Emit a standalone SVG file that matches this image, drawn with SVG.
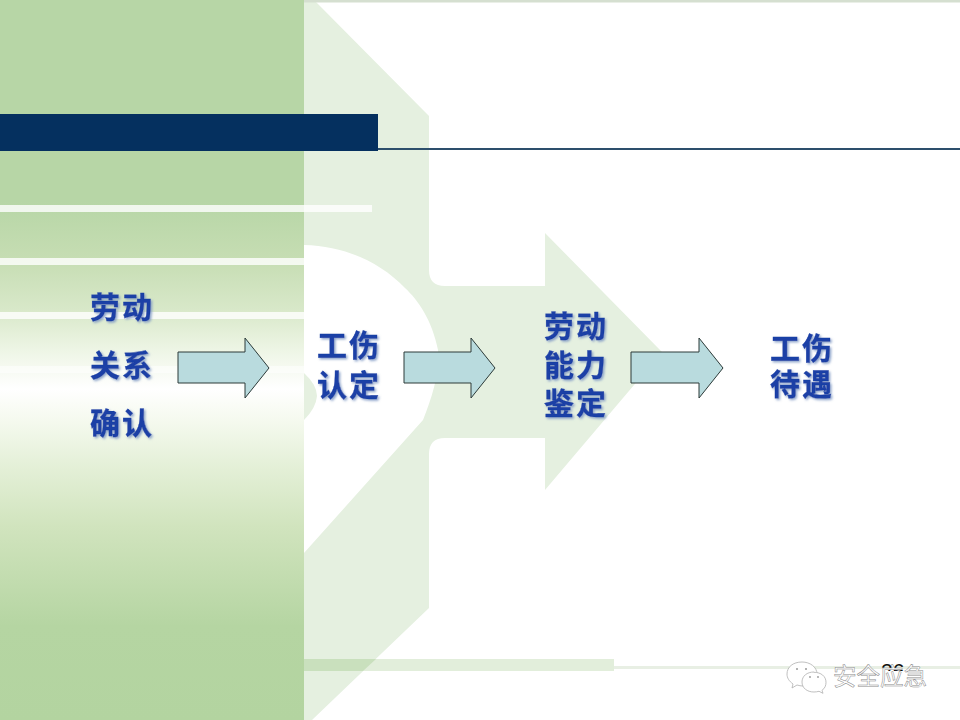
<svg xmlns="http://www.w3.org/2000/svg" width="960" height="720" viewBox="0 0 960 720">
<style>
.t{font-family:"Liberation Sans","Noto Sans CJK SC",sans-serif;font-size:30px;font-weight:700;fill:#1a3fa6;stroke:#1a3fa6;stroke-width:.35;letter-spacing:2px;filter:url(#sh)}
.ar{fill:#b9dbde;stroke:#2c3a38;stroke-width:1}
.wm{font-family:"Noto Sans CJK SC",sans-serif;font-size:23.5px;fill:#fff;stroke:#8a8a8a;stroke-width:.5}
.ic{fill:#fff;stroke:#b0b0b0;stroke-width:.8}
.st{fill:#fff}
</style>
<defs>
<linearGradient id="panel" x1="0" y1="0" x2="0" y2="720" gradientUnits="userSpaceOnUse">
<stop offset="0" stop-color="#b7d6a6"/><stop offset=".28" stop-color="#b7d6a6"/><stop offset=".36" stop-color="#c6ddb3"/><stop offset=".43" stop-color="#d8e8c9"/><stop offset=".49" stop-color="#eff6e7"/><stop offset=".54" stop-color="#ffffff"/><stop offset=".58" stop-color="#f6faf0"/><stop offset=".64" stop-color="#e6f1da"/><stop offset=".73" stop-color="#d1e4be"/><stop offset=".87" stop-color="#b5d5a2"/><stop offset="1" stop-color="#b3d4a0"/>
</linearGradient>
<filter id="sh" x="-10%" y="-10%" width="125%" height="130%"><feDropShadow dx="1.5" dy="1.5" stdDeviation="1" flood-color="#7f99c4" flood-opacity=".9"/></filter>
</defs>
<rect width="960" height="720" fill="#fff"/>
<g id="background">
<path fill="#e5f0e0" d="M304 2H316L429 116V270Q429 286 445 286H545V233L662 352L545 490V438H445Q429 438 429 454V608L312 720H304V553L423 420C433 395 440 370 438 350C432 320 418 300 405 288C380 262 345 246 304 245Z"/>
<path fill="#e5f0e0" d="M304 373Q317 385 317 396Q316 408 304 420Z"/>
<rect x="0" y="0" width="304" height="720" fill="url(#panel)"/>
<rect x="304" y="0" width="656" height="2.5" fill="#d5dfd0"/>
<path d="M304 659H614V671H304Z" fill="#e2eedb"/>
<path d="M304 659H376L363 671H304Z" fill="#c9e0bd"/>
<rect x="614" y="666" width="346" height="3" fill="#e8efe4"/>
<rect class="st" x="0" y="205" width="372" height="7" opacity=".8"/>
<rect class="st" x="0" y="258" width="304" height="7" opacity=".8"/>
<rect class="st" x="0" y="312" width="304" height="7" opacity=".8"/>
<rect class="st" x="0" y="366" width="304" height="7" opacity=".5"/>
<rect x="378" y="148" width="582" height="2" fill="#2d4f6c"/>
<rect x="0" y="114" width="378" height="37" fill="#05305f"/>
</g>
<g id="connectors">
<path class="ar" d="M178 352H245V338L269 368L245 398V383H178Z"/>
<path class="ar" d="M404 352H471V338L495 368L471 398V383H404Z"/>
<path class="ar" d="M631 352H699V338L723 368L699 398V383H631Z"/>
</g>
<g id="node-labor-relation"><text class="t" x="90" y="318">劳动</text><text class="t" x="90" y="376">关系</text><text class="t" x="90" y="434">确认</text></g>
<g id="node-injury-recognition"><text class="t" x="317" y="356">工伤</text><text class="t" x="317" y="396">认定</text></g>
<g id="node-ability-appraisal"><text class="t" x="544" y="337">劳动</text><text class="t" x="544" y="376">能力</text><text class="t" x="544" y="414">鉴定</text></g>
<g id="node-injury-benefit"><text class="t" x="770" y="359">工伤</text><text class="t" x="770" y="395">待遇</text></g>
<g id="page-number"><text x="881" y="678" font-family="Liberation Sans,sans-serif" font-size="21" fill="#111">26</text></g>
<g id="watermark">
<rect x="878" y="671" width="28" height="20" fill="#fff"/>
<path class="ic" d="M802 662c-9 0-15 5-15 12 0 4 2 7 6 10l-1 4 5-3c2 .6 4 1 6 1 8 0 14-5 14-12s-7-12-15-12z"/>
<path class="ic" d="M814 672c-7 0-12 4-12 10s5 10 12 10c2 0 3-.3 5-.7l4 2-1-3c3-2 4-5 4-8 0-6-5-10-12-10z"/>
<circle cx="797" cy="669" r="1" fill="#999"/><circle cx="806" cy="669" r="1" fill="#999"/><circle cx="810" cy="677" r=".9" fill="#999"/><circle cx="818" cy="677" r=".9" fill="#999"/>
<text class="wm" x="833" y="685">安全应急</text>
</g>
</svg>
